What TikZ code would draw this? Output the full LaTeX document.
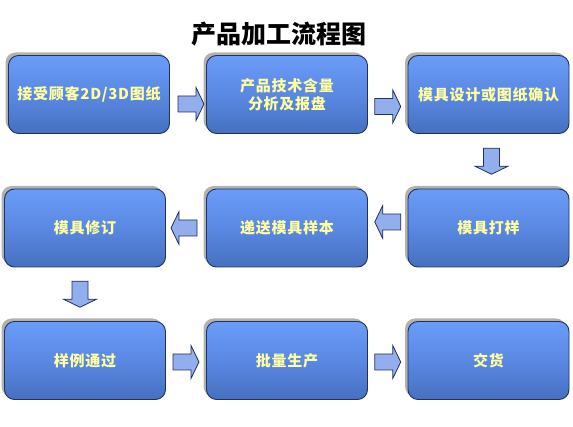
\documentclass[tikz,border=0pt]{standalone}
\usepackage{fontspec}
\newfontfamily\cjk{Noto Sans CJK SC}
\newfontfamily\cjkwide[LetterSpace=5]{Noto Sans CJK SC}
\usetikzlibrary{calc,shadows}
\definecolor{boxtop}{HTML}{6A9CF8}
\definecolor{boxmid}{HTML}{5A88E2}
\definecolor{boxbot}{HTML}{4670C0}
\definecolor{boxline}{HTML}{22305A}
\definecolor{arrowblue}{HTML}{93AEEC}
\definecolor{textyellow}{HTML}{FFFF9E}
\tikzset{
  line join=round,
  stepbox/.style={draw=boxline, line width=0.9pt, rounded corners=10pt,
    minimum width=161pt, minimum height=78pt, align=center,
    top color=boxtop, bottom color=boxbot, middle color=boxmid,
    drop shadow={shadow xshift=-3pt, shadow yshift=3pt, fill=black!30, opacity=1},
    text=textyellow, font=\cjkwide\bfseries\fontsize{15}{18}\selectfont},
  arrowline/.style={draw=boxline, fill=arrowblue, line width=0.8pt},
  pics/blockarrow/.style={code={
    \draw[arrowline] (-13,-8) -- (5,-8) -- (5,-16.5) -- (13,0) -- (5,16.5) -- (5,8) -- (-13,8) -- cycle;
  }}
}
\begin{document}
\begin{tikzpicture}[x=1pt, y=-1pt]
	\useasboundingbox (0,0) rectangle (573,427);
	
	% Title
	\node (title) at (278.5,34) {\cjk\bfseries\fontsize{25}{30}\selectfont 产品加工流程图};
	
	% first row
	\node[stepbox] (b1) at (89,94.5) {接受顾客2D/3D图纸};
	\node[stepbox] (b2) at (287,94.5) {产品技术含量\\分析及报盘};
	\node[stepbox] (b3) at (488.5,94.5) {模具设计或图纸确认};
	
	% second row
	\node[stepbox] (b4) at (85,228) {模具修订};
	\node[stepbox] (b5) at (287,228) {递送模具样本};
	\node[stepbox] (b6) at (488.5,228) {模具打样};
	
	% third row
	\node[stepbox] (b7) at (85,360.5) {样例通过};
	\node[stepbox] (b8) at (287,360.5) {批量生产};
	\node[stepbox] (b9) at (488.5,360.5) {交货};
	
	% block arrows between the steps
	\pic at ($(b1.east)!0.5!(b2.west)+(3,9.5)$) {blockarrow};
	\pic at ($(b2.east)!0.5!(b3.west)+(0,12)$) {blockarrow};
	\pic[rotate=-90] at ($(b3.south)!0.5!(b6.north)+(3,0)$) {blockarrow};
	\pic[rotate=180] at ($(b6.west)!0.5!(b5.east)+(0,-6)$) {blockarrow};
	\pic[rotate=180] at ($(b5.west)!0.5!(b4.east)+(-2,0)$) {blockarrow};
	\pic[rotate=-90] at ($(b4.south)!0.5!(b7.north)+(-5,0)$) {blockarrow};
	\pic at ($(b7.east)!0.5!(b8.west)+(0,1.5)$) {blockarrow};
	\pic at ($(b8.east)!0.5!(b9.west)+(0,1.5)$) {blockarrow};
\end{tikzpicture}
\end{document}
